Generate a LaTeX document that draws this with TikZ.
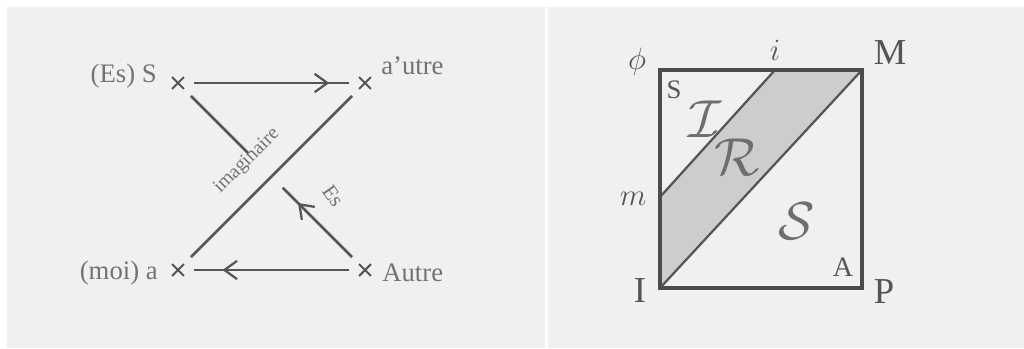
\documentclass[tikz,border=0pt]{standalone}
\usepackage{fix-cm}
\usepackage{fontspec}
\setmainfont{Liberation Serif}
\usepackage{xcolor}
\usetikzlibrary{calc, arrows.meta, decorations.markings, shapes.misc}

\definecolor{paper}{HTML}{F0F0F0}
\definecolor{ink}{HTML}{555555}
\definecolor{softink}{HTML}{737373}
\definecolor{hatch}{HTML}{CDCDCD}

\begin{document}
\begin{tikzpicture}[x=0.025cm, y=-0.025cm,
    croix/.style={cross out, draw=ink, line width=1.5pt, minimum size=7pt, inner sep=0pt},
    trait/.style={draw=ink, line width=1.8pt},
    cadre/.style={draw=ink!90!black, line width=2.2pt},
    midarrow/.style={postaction={decorate}, decoration={markings,
        mark=at position #1 with {\arrow{Straight Barb[length=9pt, width=13pt, line width=1.6pt]}}}},
    lab/.style={text=softink, font=\fontsize{19}{21}\selectfont, inner sep=0pt},
    biglab/.style={text=ink, font=\fontsize{26}{28}\selectfont, inner sep=0pt},
    scr/.style={text=ink!85, font=\fontsize{38}{40}\selectfont, inner sep=0pt}]

    % =================================================================
    % 1. FOND DES DEUX PANNEAUX
    % =================================================================
    \useasboundingbox[fill=white] (0,0) rectangle (1024,348);
    \fill[paper] (7,7) rectangle (545,348);
    \fill[paper] (548,7) rectangle (1024,348);

    % =================================================================
    % 2. SCHEMA DE GAUCHE : LES QUATRE POINTS
    % =================================================================
    \node[croix] (S) at (178,83) {};
    \node[croix] (autreA) at (365,83) {};
    \node[croix] (moi) at (178,270) {};
    \node[croix] (Autre) at (365,270) {};

    % Coupure de la ligne S -- Autre
    \coordinate (CoupeHaut) at ($(S)!0.375!(Autre)$);
    \coordinate (CoupeBas) at ($(S)!0.56!(Autre)$);

    % Les traits
    \draw[trait, midarrow=0.83, shorten <=7pt, shorten >=7pt] (S) -- (autreA);
    \draw[trait, midarrow=0.78, shorten <=7pt, shorten >=7pt] (Autre) -- (moi);
    \draw[trait, shorten <=7pt, shorten >=7pt] (autreA) -- (moi);
    \draw[trait, shorten <=7pt] (S) -- (CoupeHaut);
    \draw[trait, midarrow=0.8, shorten <=7pt] (Autre) -- (CoupeBas);

    % Les noms
    \node[lab, anchor=east] (nomS) at (157,76) {(Es) S};
    \node[lab, anchor=west] (nomautre) at (381,66) {a'utre};
    \node[lab, anchor=east] (nommoi) at (158,273) {(moi) a};
    \node[lab, anchor=west] (nomAutre) at (382,273) {Autre};
    \node[lab, rotate=45, font=\fontsize{14}{16}\selectfont] (imag) at (247,161) {imaginaire};
    \node[lab, rotate=-55, font=\fontsize{15}{17}\selectfont] (es) at (333,196) {Es};

    % =================================================================
    % 3. SCHEMA DE DROITE : LE CARRE
    % =================================================================
    \coordinate (Phi) at (660,70);
    \coordinate (M) at (862,70);
    \coordinate (P) at (862,288);
    \coordinate (I) at (660,288);
    \coordinate (i) at (775,70);
    \coordinate (m) at (660,197);

    % Bande hachuree entre les deux diagonales
    \fill[hatch] (m) -- (i) -- (M) -- (I) -- cycle;
    \draw[trait, line width=1.6pt] (m) -- (i);
    \draw[trait, line width=1.6pt] (I) -- (M);
    \draw[cadre] (Phi) rectangle (P);

    % Les noms des coins
    \node[biglab, font=\fontsize{22}{24}\selectfont] (nomPhi) at (637,62) {$\phi$};
    \node[biglab, font=\fontsize{22}{24}\selectfont] (nomi) at (775,50) {$i$};
    \node[biglab] (nomM) at (890,53) {M};
    \node[biglab, font=\fontsize{22}{24}\selectfont] (nomm) at (633,199) {$m$};
    \node[biglab] (nomI) at (640,291) {I};
    \node[biglab] (nomP) at (884,292) {P};

    % Les regions
    \node[biglab, font=\fontsize{19}{21}\selectfont] (regS) at (674,90) {S};
    \node[scr] (regI) at (705,119) {$\mathcal{I}$};
    \node[scr] (regR) at (737,157) {$\mathcal{R}$};
    \node[scr] (regSS) at (797,221) {$\mathcal{S}$};
    \node[biglab, font=\fontsize{20}{22}\selectfont] (regA) at (843,267) {A};

\end{tikzpicture}
\end{document}
